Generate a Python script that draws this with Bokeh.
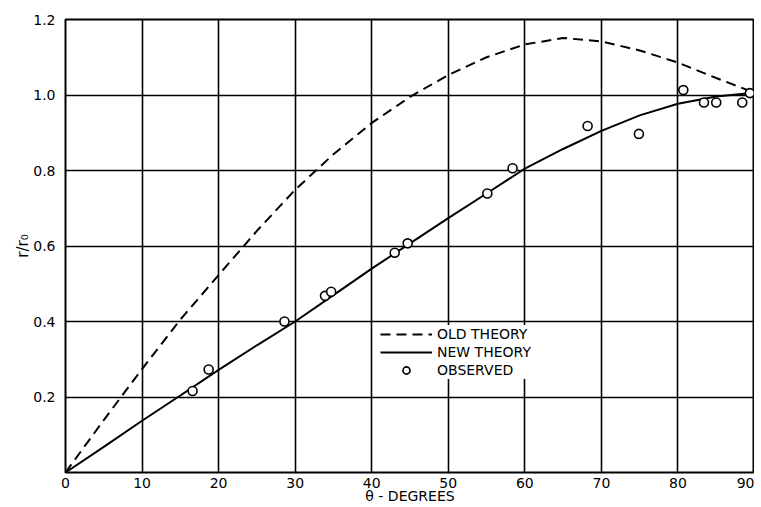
from bokeh.plotting import figure
from bokeh.models import FixedTicker, Legend, LegendItem, PrintfTickFormatter
from bokeh.embed import file_html
from bokeh.resources import INLINE

# ---- data ----
theta_old = [0, 5, 10, 15, 20, 25, 30, 35, 40, 45, 50, 55, 60, 65, 70, 75, 80, 85, 90]
ratio_old = [0, 0.139, 0.274, 0.405, 0.523, 0.64, 0.749, 0.843, 0.926, 0.995, 1.053,
             1.10, 1.134, 1.151, 1.142, 1.118, 1.086, 1.045, 1.006]

theta_new = [0, 5, 10, 15, 20, 25, 30, 35, 40, 45, 50, 55, 60, 65, 70, 75, 80, 85, 90]
ratio_new = [0, 0.068, 0.137, 0.204, 0.272, 0.337, 0.40, 0.47, 0.54, 0.607, 0.674,
             0.739, 0.805, 0.857, 0.905, 0.946, 0.977, 0.996, 1.006]

theta_obs = [16.6, 18.7, 28.6, 33.9, 34.7, 43.0, 44.7, 55.1, 58.4, 68.2, 74.9,
             80.7, 83.4, 85.0, 88.4, 89.4]
ratio_obs = [0.216, 0.273, 0.40, 0.468, 0.479, 0.582, 0.607, 0.739, 0.806, 0.918,
             0.897, 1.013, 0.98, 0.98, 0.98, 1.005]

x_ticks = [0, 10, 20, 30, 40, 50, 60, 70, 80, 90]
y_ticks = [0.2, 0.4, 0.6, 0.8, 1.0, 1.2]

FONT = "DejaVu Sans"

p = figure(width=754, height=507, x_range=(0, 90), y_range=(0, 1.2),
           output_backend="svg", toolbar_location=None,
           min_border_left=65, min_border_right=0, min_border_top=19,
           min_border_bottom=35)

p.background_fill_color = "white"
p.border_fill_color = "white"
p.outline_line_color = "black"
p.outline_line_width = 2

p.xaxis.ticker = FixedTicker(ticks=x_ticks)
p.yaxis.ticker = FixedTicker(ticks=y_ticks)
p.yaxis.formatter = PrintfTickFormatter(format="%.1f")
p.xgrid.ticker = FixedTicker(ticks=x_ticks)
p.ygrid.ticker = FixedTicker(ticks=y_ticks)
for g in (p.xgrid, p.ygrid):
    g.grid_line_color = "black"
    g.grid_line_width = 1.6
    g.grid_line_alpha = 1.0

for ax in (p.xaxis, p.yaxis):
    ax.axis_line_color = None
    ax.major_tick_line_color = None
    ax.minor_tick_line_color = None
    ax.major_label_text_font = FONT
    ax.major_label_text_font_size = "14px"
    ax.major_label_text_color = "black"
    ax.axis_label_text_font = FONT
    ax.axis_label_text_font_size = "14px"
    ax.axis_label_text_font_style = "normal"
    ax.axis_label_text_color = "black"

p.xaxis.major_label_standoff = -1
p.xaxis.axis_label = "θ - DEGREES"
p.xaxis.axis_label_standoff = -3
p.yaxis.major_label_standoff = 4
p.yaxis.axis_label = "r/r₀"
p.yaxis.axis_label_text_font_size = "15px"
p.yaxis.axis_label_standoff = -2

old_r = p.line(theta_old, ratio_old, line_color="black", line_width=2,
               line_dash="10 6")
new_r = p.line(theta_new, ratio_new, line_color="black", line_width=2)
obs_r = p.scatter(theta_obs, ratio_obs, marker="circle", size=9,
                  fill_color="white", line_color="black", line_width=1.6)

legend = Legend(items=[
    LegendItem(label="OLD THEORY", renderers=[old_r]),
    LegendItem(label="NEW THEORY", renderers=[new_r]),
    LegendItem(label="OBSERVED", renderers=[obs_r]),
], location=(315, 93))
legend.border_line_color = None
legend.background_fill_color = "white"
legend.background_fill_alpha = 1.0
legend.padding = 2
legend.spacing = 0
legend.margin = 0
legend.glyph_width = 52
legend.glyph_height = 18
legend.label_height = 18
legend.label_standoff = 5
legend.label_text_font = FONT
legend.label_text_font_size = "14px"
legend.label_text_color = "black"
p.add_layout(legend, "center")

html = file_html(p, INLINE)
open("out.html", "w").write(html)
